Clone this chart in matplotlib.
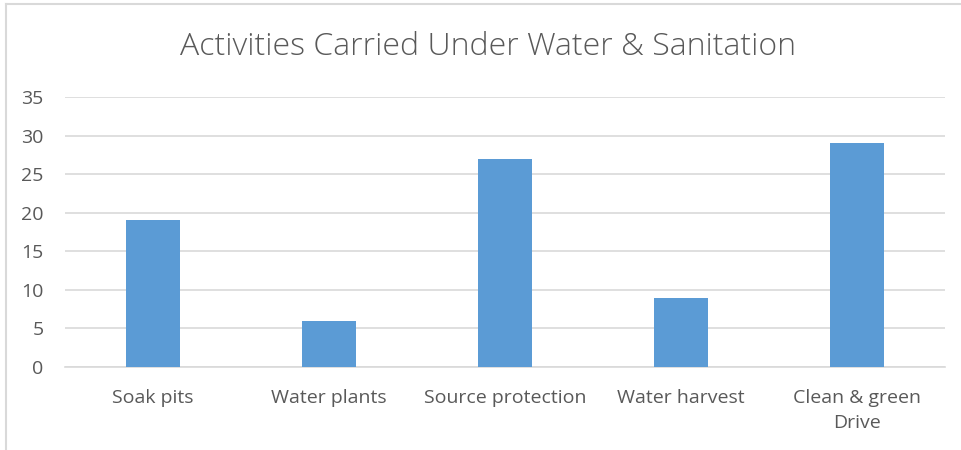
import matplotlib.pyplot as plt
from matplotlib.lines import Line2D

# === DADOS ===
categorias = ["Soak pits", "Water plants", "Source protection", "Water harvest", "Clean & green\nDrive"]
valores = [19, 6, 27, 9, 29]
titulo = "Activities Carried Under Water & Sanitation"

COR_BARRA = "#5B9BD5"
COR_TEXTO = "#595959"
COR_GRADE = "#D9D9D9"

plt.rcParams["font.family"] = ["Open Sans", "DejaVu Sans"]

fig = plt.figure(figsize=(9.61, 4.5), dpi=100)
ax = fig.add_axes([0.0676, 0.1844, 0.9158, 0.6])

x = range(len(categorias))
ax.bar(x, valores, width=0.31, color=COR_BARRA, zorder=3)

ax.set_xlim(-0.5, len(categorias) - 0.5)
ax.set_ylim(0, 35)
ax.set_yticks(range(0, 36, 5))
ax.set_xticks(list(x))
ax.set_xticklabels(categorias, fontsize=14, color=COR_TEXTO, linespacing=1.45)
ax.tick_params(axis="y", labelsize=14, labelcolor=COR_TEXTO, length=0, pad=15.5)
ax.tick_params(axis="x", length=0, pad=16)

ax.grid(axis="y", color=COR_GRADE, linewidth=1.2, zorder=0)
for lado in ["top", "right", "left"]:
    ax.spines[lado].set_visible(False)
ax.spines["bottom"].set_color(COR_GRADE)
ax.spines["bottom"].set_linewidth(1.2)

fig.text(0.508, 0.895, titulo, ha="center", va="center", fontsize=23,
         color=COR_TEXTO, fontweight="light")

# borda do gráfico (só topo e esquerda aparecem no recorte)
fig.add_artist(Line2D([6 / 961, 1], [1 - 4 / 450, 1 - 4 / 450], color=COR_GRADE, lw=1.5))
fig.add_artist(Line2D([6 / 961, 6 / 961], [0, 1 - 4 / 450], color=COR_GRADE, lw=1.5))

fig.savefig("out.png", dpi=100, facecolor="white")
plt.close(fig)
